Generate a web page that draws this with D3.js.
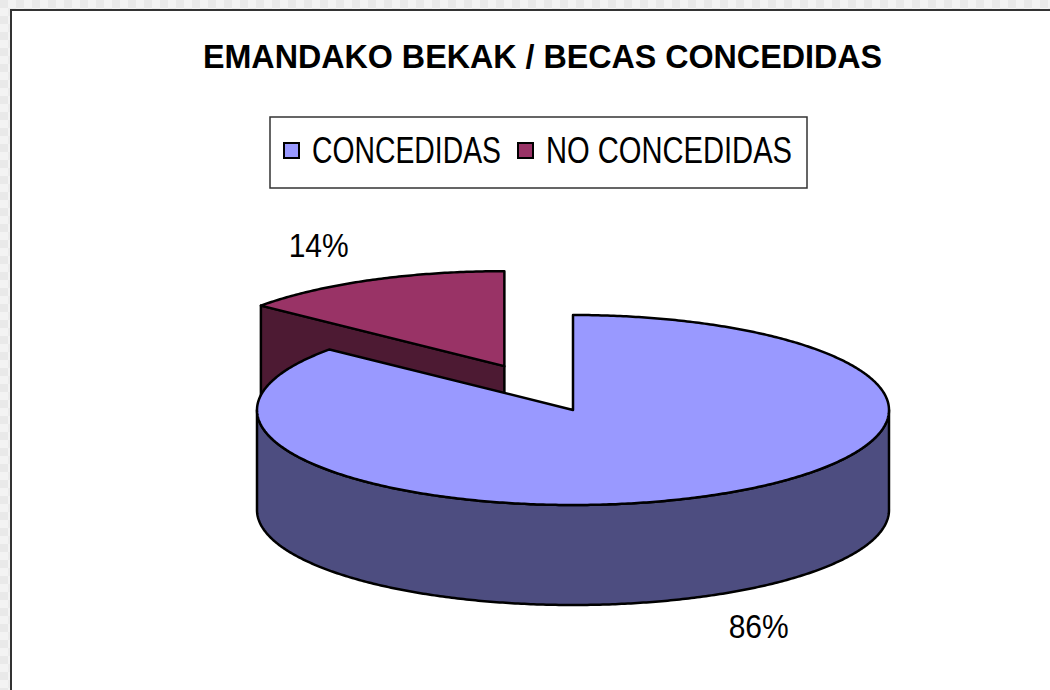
<!DOCTYPE html>
<html>
<head>
<meta charset="utf-8">
<script src="https://cdn.jsdelivr.net/npm/d3@7"></script>
<style>
  body { margin: 0; background: #efefef; overflow: hidden; }
  svg { display: block; }
</style>
</head>
<body>
<div id="container"></div>
<script>
/* DATA */
const chartTitle = "EMANDAKO BEKAK / BECAS CONCEDIDAS";
const categories = ["CONCEDIDAS", "NO CONCEDIDAS"];
const values = [86, 14];

/* CONSTANTS */
const width = 1050, height = 690;
const topColors = ["#9999ff", "#993366"],
  sideColors = ["#4d4d80", "#4d1a33"];
const explode = [0, 0.51];
const pie3d = { cx: 573, cy: 410, rx: 316, ry: 95, depth: 100 };
const font = "'Liberation Sans', Arial, sans-serif";

const svg = d3.select("#container")
  .append("svg")
  .attr("width", width)
  .attr("height", height);

// checkered grey backdrop outside the chart area
const defs = svg.append("defs");
const pat = defs.append("pattern")
  .attr("id", "bg")
  .attr("width", 16).attr("height", 16)
  .attr("patternUnits", "userSpaceOnUse");
pat.append("rect").attr("width", 16).attr("height", 16).attr("fill", "#f3f3f3");
pat.append("rect").attr("width", 8).attr("height", 8).attr("fill", "#e9e9e9");
pat.append("rect").attr("x", 8).attr("y", 8).attr("width", 8).attr("height", 8).attr("fill", "#ececec");
svg.append("rect").attr("width", width).attr("height", height).attr("fill", "url(#bg)");

// chart frame
svg.append("rect")
  .attr("x", 11).attr("y", 10)
  .attr("width", width + 20).attr("height", height + 20)
  .attr("fill", "#fff")
  .attr("stroke", "#333")
  .attr("stroke-width", 2);

// title
svg.append("text")
  .attr("x", 203).attr("y", 68)
  .attr("font-family", font)
  .attr("font-weight", "bold")
  .attr("font-size", 33)
  .attr("textLength", 679)
  .attr("lengthAdjust", "spacingAndGlyphs")
  .text(chartTitle);

/* LEGEND */
svg.append("rect")
  .attr("x", 270).attr("y", 117)
  .attr("width", 537).attr("height", 71)
  .attr("fill", "#fff")
  .attr("stroke", "#333")
  .attr("stroke-width", 1.5);

const legendX = [284, 518], legendTextLen = [189, 246];
const legend = svg.selectAll(".legend-item")
  .data(categories)
  .join("g")
  .attr("class", "legend-item")
  .attr("transform", (d, i) => `translate(${legendX[i]},0)`);

legend.append("rect")
  .attr("x", 0).attr("y", 143)
  .attr("width", 15).attr("height", 15)
  .attr("fill", (d, i) => topColors[i])
  .attr("stroke", "#000")
  .attr("stroke-width", 2);

legend.append("text")
  .attr("x", 28).attr("y", 163)
  .attr("font-family", font)
  .attr("font-size", 37)
  .attr("textLength", (d, i) => legendTextLen[i])
  .attr("lengthAdjust", "spacingAndGlyphs")
  .text(d => d);

/* PIE */
const arcs = d3.pie().sort(null).startAngle(0).endAngle(2 * Math.PI)(values);
const total = d3.sum(values);
const pct = d3.format(".0%");

const pt = (a, ox, oy, k = 1, dz = 0) => [
  pie3d.cx + ox + pie3d.rx * k * Math.sin(a),
  pie3d.cy + oy - pie3d.ry * k * Math.cos(a) + dz
];
const arcPts = (a0, a1, ox, oy, dz) => {
  const n = Math.max(2, Math.ceil(Math.abs(a1 - a0) / 0.01));
  return d3.range(n + 1).map(i => pt(a0 + (a1 - a0) * i / n, ox, oy, 1, dz));
};
const line = d3.line();

arcs.forEach((d, i) => { d.i = i; });
// draw the exploded (back) slice first
const order = arcs.slice().sort((a, b) => explode[b.i] - explode[a.i]);

order.forEach(d => {
  const i = d.i;
  const mid = (d.startAngle + d.endAngle) / 2;
  const ox = pie3d.rx * explode[i] * Math.sin(mid);
  const oy = -pie3d.ry * explode[i] * Math.cos(mid);
  const c = [pie3d.cx + ox, pie3d.cy + oy];
  const D = pie3d.depth;
  const g = svg.append("g").attr("class", "slice");
  const styleIt = sel => sel
    .attr("stroke", "#000")
    .attr("stroke-width", 2.5)
    .attr("stroke-linejoin", "round");

  // radial cut faces
  if (Math.sin(d.startAngle) < -1e-6) {
    const p = pt(d.startAngle, ox, oy);
    g.append("path")
      .attr("d", line([c, p, [p[0], p[1] + D], [c[0], c[1] + D]]) + "Z")
      .attr("fill", sideColors[i]).call(styleIt);
  }
  if (Math.sin(d.endAngle) > 1e-6) {
    const p = pt(d.endAngle, ox, oy);
    g.append("path")
      .attr("d", line([c, p, [p[0], p[1] + D], [c[0], c[1] + D]]) + "Z")
      .attr("fill", sideColors[i]).call(styleIt);
  }

  // outer wall (front half only)
  const w0 = Math.max(d.startAngle, Math.PI / 2),
    w1 = Math.min(d.endAngle, 3 * Math.PI / 2);
  if (w1 > w0) {
    const topEdge = arcPts(w0, w1, ox, oy, 0);
    const botEdge = arcPts(w1, w0, ox, oy, D);
    g.append("path")
      .attr("d", line(topEdge.concat(botEdge)) + "Z")
      .attr("fill", sideColors[i]).call(styleIt);
  }

  // top face
  g.append("path")
    .attr("d", line([c].concat(arcPts(d.startAngle, d.endAngle, ox, oy, 0))) + "Z")
    .attr("fill", topColors[i]).call(styleIt);

  // percentage label
  const lp = pt(mid, ox, oy, 1.38, Math.cos(mid) < 0 ? D : 0);
  svg.append("text")
    .attr("x", lp[0]).attr("y", lp[1])
    .attr("text-anchor", "middle")
    .attr("dominant-baseline", "middle")
    .attr("font-family", font)
    .attr("font-size", 34)
    .attr("textLength", 60)
    .attr("lengthAdjust", "spacingAndGlyphs")
    .text(pct(d.data / total));
});
</script>
</body>
</html>
